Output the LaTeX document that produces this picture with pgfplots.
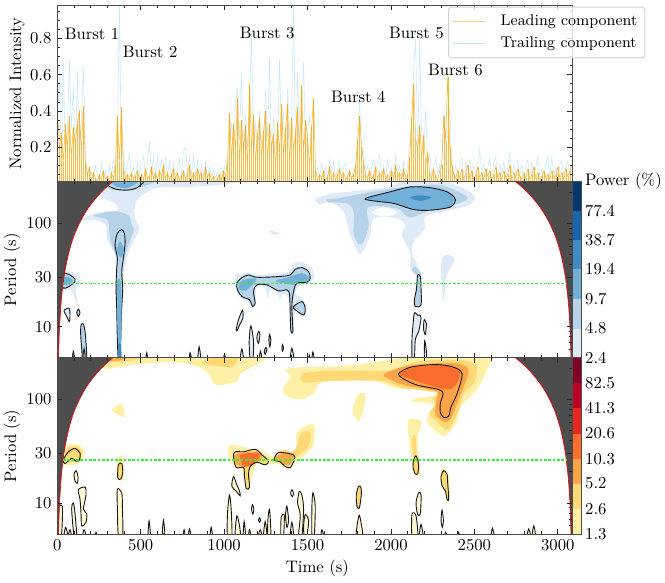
\documentclass[border=0pt]{standalone}
\usepackage{pgfplots}
\usepackage{pgfplotstable}
\pgfplotsset{compat=1.18}

\definecolor{leadcol}{HTML}{FFA500}
\definecolor{trailcol}{HTML}{87CEEB}
\definecolor{perline}{HTML}{35F035}
\definecolor{blueA}{HTML}{DEEBF7}
\definecolor{blueB}{HTML}{B5D2E8}
\definecolor{blueC}{HTML}{72B0D8}
\definecolor{blueD}{HTML}{3F8CC4}
\definecolor{blueE}{HTML}{1765AB}
\definecolor{blueF}{HTML}{08366F}
\definecolor{oranL}{HTML}{FFF7D2}
\definecolor{oranA}{HTML}{FFF0A8}
\definecolor{oranB}{HTML}{FED976}
\definecolor{oranC}{HTML}{FEA446}
\definecolor{oranD}{HTML}{FB6D2C}
\definecolor{oranE}{HTML}{E9261F}
\definecolor{oranF}{HTML}{BD0026}
\definecolor{oranG}{HTML}{800026}
\definecolor{coicol}{HTML}{4D4D4D}

% time, leading, trailing
\pgfplotstableread{
t lead trail
0 .45 .30
12 .18 .61
24 .28 .10
36 .12 .69
48 .33 .14
60 .20 .28
72 .37 .69
84 .15 .30
96 .31 .54
108 .22 .12
120 .34 .63
132 .40 .15
144 .17 .35
156 .43 .65
168 .12 .17
180 .05 .03
192 .09 .08
204 .02 .06
216 .06 .02
228 .03 .10
240 .01 .04
252 .05 .02
264 .02 .11
276 .07 .03
288 .02 .07
300 .04 .02
312 .01 .10
324 .06 .04
336 .03 .13
348 .10 .05
360 .37 .22
372 .12 1.0
384 .42 .14
396 .09 .18
408 .03 .06
420 .05 .10
432 .02 .16
444 .06 .04
456 .03 .09
468 .04 .02
480 .07 .11
492 .02 .04
504 .05 .12
516 .02 .15
528 .08 .05
540 .03 .12
552 .04 .23
564 .09 .05
576 .03 .14
588 .06 .03
600 .02 .15
612 .07 .05
624 .04 .13
636 .10 .02
648 .03 .15
660 .06 .04
672 .02 .12
684 .05 .03
696 .08 .11
708 .03 .05
720 .06 .08
732 .02 .14
744 .04 .03
756 .07 .18
768 .03 .20
780 .05 .06
792 .10 .14
804 .02 .04
816 .06 .16
828 .03 .05
840 .08 .13
852 .04 .03
864 .06 .10
876 .02 .04
888 .09 .12
900 .03 .03
912 .06 .09
924 .02 .04
936 .04 .07
948 .01 .03
960 .03 .06
972 .05 .02
984 .02 .09
996 .07 .04
1008 .04 .13
1020 .12 .06
1032 .39 .20
1044 .14 .34
1056 .33 .10
1068 .20 .46
1080 .47 .52
1092 .13 .24
1104 .35 .62
1116 .18 .16
1128 .32 .38
1140 .10 .20
1152 .55 .42
1164 .19 .83
1176 .38 .15
1188 .12 .34
1200 .28 .11
1212 .36 .40
1224 .15 .22
1236 .29 .18
1248 .40 .52
1260 .13 .26
1272 .33 .69
1284 .20 .15
1296 .27 .36
1308 .10 .22
1320 .34 .14
1332 .17 .68
1344 .44 .24
1356 .16 .40
1368 .30 .12
1380 .44 .52
1392 .12 .26
1404 .36 .34
1416 .19 1.0
1428 .28 .15
1440 .42 .62
1452 .14 .22
1464 .54 .36
1476 .18 .67
1488 .35 .13
1500 .25 .30
1512 .10 .37
1524 .31 .08
1536 .47 .05
1548 .07 .04
1560 .02 .09
1572 .05 .03
1584 .03 .11
1596 .07 .04
1608 .02 .09
1620 .04 .02
1632 .09 .13
1644 .03 .06
1656 .06 .12
1668 .02 .04
1680 .05 .08
1692 .08 .12
1704 .03 .03
1716 .06 .09
1728 .02 .11
1740 .04 .04
1752 .07 .07
1764 .03 .03
1776 .05 .08
1788 .10 .05
1800 .24 .30
1812 .37 .45
1824 .20 .14
1836 .12 .19
1848 .05 .05
1860 .03 .10
1872 .07 .02
1884 .02 .09
1896 .05 .13
1908 .09 .05
1920 .03 .12
1932 .06 .16
1944 .04 .04
1956 .08 .10
1968 .02 .03
1980 .05 .13
1992 .03 .05
2004 .07 .09
2016 .02 .02
2028 .10 .16
2040 .04 .05
2052 .06 .10
2064 .03 .04
2076 .08 .12
2088 .02 .03
2100 .05 .10
2112 .14 .22
2124 .36 .30
2136 .55 .64
2148 .25 .80
2160 .18 .15
2172 .32 .80
2184 .14 .24
2196 .27 .20
2208 .10 .41
2220 .17 .11
2232 .06 .16
2244 .03 .05
2256 .08 .09
2268 .04 .14
2280 .02 .05
2292 .07 .11
2304 .10 .08
2316 .37 .39
2328 .24 .10
2340 .59 .31
2352 .20 .42
2364 .10 .12
2376 .05 .05
2388 .03 .10
2400 .07 .03
2412 .03 .09
2424 .08 .14
2436 .02 .04
2448 .06 .12
2460 .10 .05
2472 .03 .13
2484 .07 .03
2496 .02 .10
2508 .05 .05
2520 .09 .12
2532 .03 .19
2544 .06 .04
2556 .02 .11
2568 .08 .03
2580 .04 .09
2592 .07 .14
2604 .02 .04
2616 .05 .11
2628 .09 .15
2640 .03 .03
2652 .06 .10
2664 .02 .05
2676 .07 .12
2688 .03 .03
2700 .05 .09
2712 .10 .17
2724 .02 .04
2736 .06 .11
2748 .03 .03
2760 .08 .13
2772 .04 .05
2784 .02 .10
2796 .06 .03
2808 .03 .09
2820 .08 .13
2832 .02 .04
2844 .05 .12
2856 .09 .03
2868 .03 .09
2880 .06 .15
2892 .02 .04
2904 .04 .08
2916 .07 .03
2928 .03 .11
2940 .05 .15
2952 .02 .03
2964 .07 .15
2976 .03 .05
2988 .05 .09
3000 .09 .03
3012 .03 .10
3024 .06 .13
3036 .02 .04
3048 .08 .09
3060 .04 .12
3072 .07 .05
3084 .10 .13
}\burst

\pgfplotsset{
  panel/.style={
    scale only axis, width=309pt, height=105.7pt,
    xmin=0, xmax=3087,
    axis on top, no marks,
    xtick={0,500,1000,1500,2000,2500,3000},
    minor x tick num=4,
    /pgf/number format/1000 sep={},
    tick align=inside,
    major tick length=3pt, minor tick length=1.6pt,
    every tick/.style={black!85, line width=.45pt},
    axis line style={black!70, line width=.6pt},
  },
  cbarstyle/.style={
    scale only axis, width=5.4pt, height=105.7pt,
    xmin=0, xmax=1,
    xtick=\empty, axis on top,
    major tick length=0pt, yminorticks=false,
    ytick pos=right,
    yticklabel style={anchor=west, xshift=-1.2pt},
    axis line style={black!70, line width=.5pt},
  },
  blvA/.style={fill=blueA,draw=none,smooth cycle,forget plot},
  blvB/.style={fill=blueB,draw=none,smooth cycle,forget plot},
  blvC/.style={fill=blueC,draw=none,smooth cycle,forget plot},
  blvD/.style={fill=blueD,draw=none,smooth cycle,forget plot},
  ylvA/.style={fill=oranA,draw=none,smooth cycle,forget plot},
  ylvB/.style={fill=oranB,draw=none,smooth cycle,forget plot},
  ylvC/.style={fill=oranC,draw=none,smooth cycle,forget plot},
  ylvD/.style={fill=oranD,draw=none,smooth cycle,forget plot},
  ctline/.style={draw=black!90,line width=.55pt,smooth cycle,forget plot},
  ctblA/.style={ctline,fill=blueA},
  ctblB/.style={ctline,fill=blueB},
  ctylA/.style={ctline,fill=oranL},
  ctylB/.style={ctline,fill=oranB},
  coifill/.style={fill=coicol,draw=none,forget plot},
  coiline/.style={draw=red,line width=.4pt,forget plot},
  rightticks/.style={
    extra y ticks={6,7,8,9,20,40,50,60,70,80,90,200},
    extra y tick labels={},
    extra y tick style={ytick pos=right,major tick length=2pt},
  },
}

\newcommand{\coidraw}{%
  \addplot[coifill] coordinates {(0,5)(6.6,5)(13,10)(20,15)(26,20)(39,30)(53,40)(66,50)(79,60)(92,70)(105,80)(132,100)(158,120)(184,140)(211,160)(237,180)(263,200)(289,220)(316,240)(333,253)(0,253)} --cycle;
  \addplot[coifill] coordinates {(3087,5)(3079,5)(3073,10)(3066,15)(3059,20)(3046,30)(3032,40)(3019,50)(3005,60)(2992,70)(2979,80)(2951,100)(2925,120)(2898,140)(2871,160)(2844,180)(2818,200)(2791,220)(2764,240)(2746,253)(3087,253)} --cycle;
  \addplot[coiline] coordinates {(6.6,5)(13,10)(20,15)(26,20)(39,30)(53,40)(66,50)(79,60)(92,70)(105,80)(132,100)(158,120)(184,140)(211,160)(237,180)(263,200)(289,220)(316,240)(333,253)};
  \addplot[coiline] coordinates {(3079,5)(3073,10)(3066,15)(3059,20)(3046,30)(3032,40)(3019,50)(3005,60)(2992,70)(2979,80)(2951,100)(2925,120)(2898,140)(2871,160)(2844,180)(2818,200)(2791,220)(2764,240)(2746,253)};
}

\begin{document}
\begin{tikzpicture}
\path[use as bounding box] (-34.4pt,-28.8pt) rectangle (364.6pt,320.4pt);

% ---- light curves
\begin{axis}[panel,
  at={(0pt,211.4pt)}, anchor=south west,
  ymin=0.01, ymax=0.982,
  ytick={0.2,0.4,0.6,0.8}, minor ytick={0.05,0.1,0.15,0.25,0.3,0.35,0.45,0.5,0.55,0.65,0.7,0.75,0.85,0.9,0.95},
  xticklabels={},
  ylabel={Normalized Intensity},
  ylabel style={at={(axis description cs:-0.078,.5)},anchor=center},
  legend image code/.code={\draw[#1] (0pt,0pt) -- (19pt,0pt);},
  legend style={at={(0.759,0.993)},anchor=north west,fill=white,fill opacity=.8,text opacity=1,draw=black!18,rounded corners=1.5pt,line width=.6pt,font=\fontsize{9.3}{11}\selectfont,row sep=1.5pt,inner sep=2.5pt,/tikz/every odd column/.append style={column sep=7pt}},
  legend cell align=left,
]
\addlegendimage{color=leadcol,draw opacity=.5,line width=.7pt}
\addlegendimage{color=trailcol,draw opacity=.5,line width=.7pt}
\addplot[draw=trailcol,opacity=.45,line width=.35pt,forget plot] table[x=t,y=trail]{\burst};
\addplot[ycomb,draw=leadcol,opacity=.75,line width=.25pt,forget plot] table[x=t,y=lead]{\burst};
\addplot[draw=leadcol,opacity=.85,line width=.3pt,forget plot] table[x=t,y=lead]{\burst};
\legend{Leading component,Trailing component}
\node at (axis cs:208,.828) {Burst 1};
\node at (axis cs:556,.727) {Burst 2};
\node at (axis cs:1258,.828) {Burst 3};
\node at (axis cs:1804,.478) {Burst 4};
\node at (axis cs:2152,.828) {Burst 5};
\node at (axis cs:2386,.627) {Burst 6};
\end{axis}

% ---- leading component spectrum
\begin{axis}[panel, ymode=log, ymin=5, ymax=253,
  ytick={10,30,100}, yticklabels={10,30,100},
  yminorticks=false, rightticks,
  ylabel={Period (s)},
  ylabel style={at={(axis description cs:-0.088,.5)},anchor=center},
  at={(0pt,105.7pt)}, anchor=south west,
  xticklabels={},
]
\addplot[blvA] coordinates {(316,260)(1096,260)(956,234)(776,225)(596,220)(496,180)(466,150)(466,112)(492,89)(456,66.5)(416,47.7)(400,31.7)(380,25.4)(356,31.7)(346,49.5)(296,72)(292,96)(216,108)(136,108)(256,129)(356,131)(346,156)(266,176)(266,194)};
\addplot[blvB] coordinates {(316,260)(596,260)(536,234)(456,213)(336,210)(296,234)};
\addplot[blvB] coordinates {(216,118)(336,131)(426,120)(446,96)(460,86)(426,62)(400,47.7)(356,47.7)(316,72)(300,108)};
\addplot[blvC] coordinates {(330,260)(490,260)(426,222)(356,226)};
\addplot[draw=black!90,line width=.55pt,smooth,forget plot] coordinates {(296,234)(356,213)(426,210)(476,220)(512,245)(520,260)};
\addplot[ctblB] coordinates {(360,80)(386,87)(402,80)(406,64)(396,46)(386,34)(392,23.6)(386,15)(380,7.2)(380,4.8)(366,4.8)(360,7.2)(356,15)(352,23.6)(356,36.8)(360,46)(346,62)};
\addplot[blvC] coordinates {(356,55)(376,66.5)(400,55)(380,46.7)};
\addplot[blvC] coordinates {(360,27.4)(380,27.4)(386,15)(380,5.2)(366,5.2)(360,15)};
\addplot[blvD] coordinates {(364,6.7)(380,6.7)(380,4.8)(364,4.8)};
\addplot[blvA] coordinates {(12,32.9)(86,34.2)(136,30.5)(132,25.4)(112,22.7)(126,15.1)(104,18.9)(80,22.7)(26,22.7)};
\addplot[ctblB] coordinates {(36,32.9)(76,31.7)(106,28.9)(106,27.2)(66,24.3)(36,23.6)(22,27.4)};
\addplot[blvC] coordinates {(36,30.5)(72,29.8)(92,28)(66,25.8)(36,25.4)};
\addplot[ctblA] coordinates {(40,14.3)(70,15.1)(76,13)(72,11.2)(56,12.6)};
\addplot[ctblB] coordinates {(116,13.7)(126,14.8)(136,13.7)(126,12.6)};
\addplot[ctblB] coordinates {(142,10.4)(156,10.6)(168,8.4)(176,4.8)(152,4.8)(146,6.2)(140,8.4)};
\addplot[ctblA] coordinates {(90,4.8)(96,5.8)(102,4.8)};
\addplot[ctblA] coordinates {(154,4.8)(160,6.1)(168,4.8)};
\addplot[ctblA] coordinates {(530,4.8)(536,5.6)(542,4.8)};
\addplot[ctblA] coordinates {(790,4.8)(796,5.6)(804,4.8)};
\addplot[ctblA] coordinates {(842,4.8)(850,6.4)(860,4.8)};
\addplot[ctblA] coordinates {(996,4.8)(1002,5.4)(1008,4.8)};
\addplot[ctblA] coordinates {(1096,4.8)(1106,6.1)(1116,4.8)};
\addplot[ctblA] coordinates {(1150,7.2)(1160,10.2)(1176,7.2)(1172,4.8)(1156,4.8)};
\addplot[ctblA] coordinates {(1196,7.8)(1206,9)(1214,8.4)(1206,6.9)};
\addplot[ctblB] coordinates {(1268,7.5)(1272,8.4)(1280,7.5)(1274,6.4)};
\addplot[ctblB] coordinates {(1240,5.8)(1250,6.3)(1256,6)(1246,5.4)};
\addplot[ctblA] coordinates {(1210,4.8)(1218,5.8)(1226,4.8)};
\addplot[ctblB] coordinates {(1346,6.2)(1350,6.7)(1356,6.2)(1350,5.8)};
\addplot[ctblA] coordinates {(1396,4.8)(1406,6.2)(1418,4.8)};
\addplot[ctblA] coordinates {(1506,4.8)(1510,5.3)(1516,4.8)};
\addplot[ctblA] coordinates {(1526,4.8)(1532,5.7)(1540,4.8)};
\addplot[blvA] coordinates {(1266,86)(1306,83)(1340,80)(1296,78)};
% burst 3
\addplot[blvA] coordinates {(1066,31.7)(1096,32.3)(1146,33.5)(1206,31.7)(1316,33)(1386,34.2)(1416,41)(1466,42)(1526,36.8)(1536,29)(1486,25.4)(1446,24.5)(1426,20.9)(1466,18.9)(1492,15.1)(1480,12.6)(1426,14.1)(1416,9)(1396,9)(1392,17.5)(1356,20.9)(1332,18.6)(1316,21.9)(1276,22.7)(1260,18.6)(1246,23.6)(1196,24.5)(1186,16.3)(1166,15.8)(1146,17.5)(1096,18.9)(1066,25.4)};
\addplot[ctblB] coordinates {(1076,26.4)(1106,29.8)(1146,31.7)(1196,30.1)(1316,30.5)(1396,31.7)(1426,36)(1466,37.3)(1506,34.2)(1516,29.4)(1496,27)(1436,26.4)(1416,21.9)(1406,15.7)(1412,9.1)(1400,9.1)(1396,13)(1392,20.3)(1376,22.7)(1326,22.2)(1256,25.4)(1196,25.4)(1176,21.9)(1186,16.9)(1170,15.7)(1152,18.2)(1106,19.6)(1080,22.7)};
\addplot[blvC] coordinates {(1086,25.4)(1116,28.4)(1186,29.4)(1186,27.4)(1136,22.7)(1096,22.7)};
\addplot[blvC] coordinates {(1316,28.4)(1376,29.8)(1426,31.7)(1466,33)(1506,30.5)(1506,27.8)(1446,27)(1416,25.4)(1356,26.4)(1316,27)};
\addplot[ctblB] coordinates {(1416,15.7)(1466,17.5)(1486,15.1)(1476,13)(1426,14.6)};
\addplot[ctblA] coordinates {(1072,9.3)(1086,11.7)(1110,14.4)(1112,12.1)(1092,10.4)(1080,9.3)};
% long period patch
\addplot[blvA] coordinates {(1546,174)(1656,195)(1736,202)(1996,225)(2076,260)(2296,260)(2436,217)(2506,180)(2466,150)(2356,134)(2206,116)(2206,89)(2136,66.5)(2126,51)(2160,39.6)(2192,29.4)(2152,30.5)(2116,36.8)(2116,51)(2066,77)(2086,96)(2036,112)(1896,112)(1876,77)(1816,50.6)(1756,77)(1716,129)(1636,162)(1576,152)};
\addplot[blvB] coordinates {(1616,171)(1676,174)(1836,195)(2076,225)(2296,234)(2456,180)(2406,156)(2236,134)(2126,114)(2086,120)(2036,139)(1866,144)(1866,96)(1836,66.5)(1806,63)(1776,80)(1776,129)(1736,156)(1626,159)};
\addplot[fill=white,draw=none,smooth cycle,forget plot] coordinates {(1886,127)(1956,144)(2036,127)(1966,116)};
\addplot[ctline,fill=blueC] coordinates {(1846,174)(1996,202)(2116,225)(2236,221)(2336,202)(2386,171)(2356,144)(2236,134)(2136,136)(2016,156)(1896,165)};
\addplot[blvD] coordinates {(2112,178)(2176,187)(2242,178)(2176,165)};
\addplot[blvB] coordinates {(2126,35.5)(2146,38.2)(2180,31.7)(2160,31.2)};
\addplot[ctblB] coordinates {(2160,31.7)(2176,30.5)(2180,23.6)(2180,16.3)(2146,15.7)(2140,18.2)(2152,22.7)};
\addplot[blvA] coordinates {(2306,45.9)(2346,49.5)(2380,44)(2336,31.7)(2316,17.5)(2306,23.6)(2300,31.7)};
\addplot[ctblA] coordinates {(2140,13.6)(2160,12.9)(2172,13)(2180,12.1)(2166,9)(2146,7.5)(2140,4.8)(2126,4.8)(2126,7.8)(2132,10.4)};
\addplot[ctblA] coordinates {(2200,11.7)(2212,10.7)(2206,8.4)(2196,9.3)(2196,10.7)};
\addplot[ctblA] coordinates {(2202,7.3)(2212,5.8)(2212,4.8)(2200,4.8)};
\coidraw
\end{axis}

% ---- trailing component spectrum
\begin{axis}[panel, ymode=log, ymin=5, ymax=253,
  ytick={10,30,100}, yticklabels={10,30,100},
  yminorticks=false, rightticks,
  ylabel={Period (s)},
  ylabel style={at={(axis description cs:-0.088,.5)},anchor=center},
  at={(0pt,0pt)}, anchor=south west,
  xlabel={Time (s)},
  xlabel style={at={(axis description cs:.505,-.193)},anchor=center},
]
\addplot[ylvA] coordinates {(276,201)(336,260)(1196,260)(1186,215)(1096,178)(1076,149)(976,138)(936,144)(896,186)(776,223)(616,228)(456,215)(336,201)};
\addplot[ylvB] coordinates {(316,232)(356,260)(516,260)(456,238)(376,232)};
\addplot[ylvC] coordinates {(316,236)(376,260)(436,260)(376,240)};
\addplot[ylvB] coordinates {(866,228)(956,260)(1076,260)(1056,208)(996,208)(916,215)};
\addplot[ylvA] coordinates {(1366,195)(1496,208)(1636,208)(1836,223)(2036,248)(2066,260)(2576,260)(2586,215)(2516,125)(2416,85)(2396,61)(2316,44.6)(2216,61)(2256,85)(2236,92)(2126,96)(2156,104)(2246,108)(2296,119)(2176,125)(2036,128)(1896,150)(1636,150)(1560,138)(1546,119)(1466,100)(1376,108)(1352,125)(1396,168)};
\addplot[ylvB] coordinates {(1472,178)(1636,190)(1976,190)(2116,223)(2236,241)(2436,238)(2516,208)(2496,144)(2436,114)(2406,79)(2356,53)(2316,52)(2276,61)(2226,73)(2276,92)(2246,101)(2286,114)(2196,122)(2056,131)(1936,152)(1636,152)(1476,146)};
\addplot[ylvC] coordinates {(1956,172)(2076,208)(2236,223)(2396,223)(2466,195)(2436,133)(2396,92)(2356,64)(2316,61)(2266,73)(2276,108)(2276,119)(2196,128)(2076,138)};
\addplot[ylvD] coordinates {(2046,178)(2156,208)(2316,215)(2406,195)(2406,155)(2356,126)(2256,133)(2116,158)};
\addplot[ctline] coordinates {(2046,178)(2116,205)(2256,218)(2366,208)(2426,178)(2396,114)(2360,85)(2346,69)(2316,67)(2296,75)(2296,92)(2312,114)(2286,125)(2156,138)(2076,158)};
\addplot[ylvA] coordinates {(1772,85)(1806,114)(1846,110)(1836,79)(1806,62)(1776,71)};
\addplot[ylvA] coordinates {(2106,64)(2186,61)(2160,44)(2166,28)(2172,19.6)(2146,18)(2126,24)(2106,41)};
\addplot[ylvB] coordinates {(2126,41)(2146,45)(2152,28)(2136,28)};
\addplot[ctylB] coordinates {(2136,26)(2150,28.5)(2166,23.5)(2160,19.2)(2144,19.2)(2132,22.5)};
\addplot[ylvA] coordinates {(2296,19)(2316,21.5)(2346,18.5)(2352,11)(2330,13)(2302,15)};
\addplot[ctylB] coordinates {(2300,18)(2316,20.5)(2336,18.9)(2340,15.5)(2346,10.8)(2336,10.8)(2326,13)(2306,14.7)};
\addplot[ctylB] coordinates {(1792,11.9)(1806,14.5)(1820,14.1)(1822,11.9)(1810,8.9)(1796,9.3)};
\addplot[ctylA] coordinates {(2166,12.5)(2180,12)(2176,7.9)(2160,7.7)(2150,10)};
\addplot[ctylA] coordinates {(2126,7.8)(2150,7.5)(2160,4.8)(2126,4.8)};
\addplot[ctylA] coordinates {(2170,4.8)(2180,6.2)(2192,4.8)};
\addplot[ctline] coordinates {(2300,6.8)(2306,8.5)(2314,6.8)(2308,5.8)};
\addplot[ctylA] coordinates {(1792,4.8)(1800,6.5)(1810,7.6)(1820,6.5)(1830,4.8)};
\addplot[ctylA] coordinates {(2320,4.8)(2328,5.2)(2336,4.8)};
\addplot[ctylA] coordinates {(2398,4.8)(2404,5.2)(2412,4.8)};
\addplot[ctylA] coordinates {(2600,4.8)(2608,5.7)(2618,4.8)};
\addplot[ctylA] coordinates {(2816,4.8)(2826,5.6)(2836,4.8)};
\addplot[ctylA] coordinates {(2846,4.8)(2856,6)(2866,4.8)};
% burst 1
\addplot[ylvA] coordinates {(36,32)(66,36.5)(126,36.5)(166,30.3)(136,25.3)(106,23.5)(36,23.5)};
\addplot[ylvB] coordinates {(40,28)(66,34)(126,35)(146,30.3)(126,26)(36,24)};
\addplot[ctylB] coordinates {(36,26)(66,31.2)(106,33.6)(136,30.3)(132,26)(112,25.3)(86,27)(46,24)};
\addplot[ctylA] coordinates {(100,18.9)(112,20.5)(124,18)(120,15.5)(106,16.3)};
\addplot[ctylA] coordinates {(126,13.4)(166,14.2)(172,11.9)(156,8.7)(176,7.9)(172,6.5)(146,6)(142,7.9)(136,10.8)};
\addplot[ctylA] coordinates {(12,9.3)(30,9.3)(30,6.8)(24,4.8)(8,4.8)(6,7.6)};
\addplot[ctylA] coordinates {(86,8.7)(96,10)(106,7.9)(116,4.8)(100,4.8)};
\addplot[ctylA] coordinates {(40,4.8)(50,5.8)(62,4.8)};
\addplot[ctylA] coordinates {(66,4.8)(76,5.5)(84,4.8)};
\addplot[ctylA] coordinates {(152,4.8)(160,5.5)(172,4.8)};
\addplot[ctylA] coordinates {(226,4.8)(232,5.2)(238,4.8)};
% burst 2
\addplot[ylvA] coordinates {(356,24)(380,29.2)(400,24)(396,16.9)(366,16.9)};
\addplot[ctylB] coordinates {(362,17.5)(366,23.5)(386,24)(392,19.6)(380,17)};
\addplot[ctylA] coordinates {(360,13.6)(386,12.5)(390,9.3)(392,4.8)(366,4.8)(360,8.7)};
\addplot[ylvA] coordinates {(326,79)(376,92)(400,83)(402,68)(376,70)};
% burst 3
\addplot[ylvA] coordinates {(1026,35.5)(1056,36.5)(1176,33)(1256,30.3)(1286,28)(1396,31.2)(1436,33.4)(1436,48)(1536,58)(1536,37.8)(1496,30.3)(1416,24)(1376,21.8)(1316,24)(1256,23.5)(1196,24)(1156,15.5)(1146,13.6)(1126,15.5)(1106,21)(1056,23.5)(1026,28)};
\addplot[ylvB] coordinates {(1296,28)(1356,32.8)(1416,31.2)(1466,48)(1516,48)(1506,35.5)(1426,27)(1376,22.5)(1316,26)};
\addplot[ylvB] coordinates {(1056,28)(1066,31.2)(1116,31.2)(1186,33)(1226,29.2)(1266,25.3)(1246,23.3)(1196,24.7)(1156,22.5)(1146,18.9)(1152,14.1)(1132,13.8)(1122,18)(1116,22)(1072,22)};
\addplot[ylvC] coordinates {(1066,29.2)(1196,31.2)(1226,27)(1146,22.5)(1076,23.5)};
\addplot[ylvD] coordinates {(1096,29.2)(1196,30.7)(1212,28)(1166,23.5)(1116,22.5)(1100,26)};
\addplot[ylvC] coordinates {(1306,27)(1356,30.3)(1416,28.6)(1396,23.5)(1366,23.5)};
\addplot[ctline] coordinates {(1056,28)(1066,31.2)(1116,31.2)(1186,33)(1226,29.2)(1266,25.3)(1246,23.3)(1196,24.7)(1156,22.5)(1146,18.9)(1152,14.1)(1132,13.8)(1122,18)(1116,22)(1072,22)};
\addplot[ctline] coordinates {(1300,26)(1326,30.7)(1416,29.2)(1420,26)(1396,22)(1366,22.5)(1336,25)};
\addplot[ctylA] coordinates {(1056,18)(1072,15.5)(1092,13)(1096,11.7)(1072,13)(1046,14.5)};
\addplot[ctline] coordinates {(1406,13.4)(1416,12.4)(1408,11.5)(1398,12.4)};
\addplot[ctylA] coordinates {(1450,12.9)(1466,11.9)(1476,8.7)(1466,4.8)(1446,4.8)(1456,7.6)(1440,10)};
\addplot[ctylA] coordinates {(1020,7.9)(1032,11.9)(1042,8.7)(1046,4.8)(1020,4.8)};
\addplot[ctylA] coordinates {(1066,4.8)(1076,7.5)(1092,6)(1096,4.8)};
\addplot[ctylA] coordinates {(1114,4.8)(1120,6.6)(1128,4.8)};
\addplot[ctylA] coordinates {(1146,4.8)(1152,5.5)(1160,4.8)};
\addplot[ctline] coordinates {(1164,8.7)(1170,9.6)(1178,8.7)(1172,7.8)};
\addplot[ctline] coordinates {(1206,6.8)(1212,7.2)(1218,6.8)(1212,6.5)};
\addplot[ctylA] coordinates {(1206,4.8)(1216,5.5)(1226,4.8)};
\addplot[ctylA] coordinates {(1236,4.8)(1246,6.6)(1256,4.8)};
\addplot[ctylA] coordinates {(1262,4.8)(1262,6.8)(1272,8.7)(1280,4.8)};
\addplot[ctylA] coordinates {(1340,4.8)(1342,7.2)(1360,7.6)(1356,4.8)};
\addplot[ctylA] coordinates {(1368,7.6)(1376,9.3)(1386,6.8)(1376,5.8)};
\addplot[ctylA] coordinates {(1396,4.8)(1406,6.5)(1416,4.8)};
\addplot[ctylA] coordinates {(1476,6)(1486,7.7)(1506,6.8)(1496,4.8)(1480,4.8)};
\addplot[ctylA] coordinates {(1526,4.8)(1526,9.3)(1532,12.5)(1546,9.3)(1540,4.8)};
\addplot[ctylA] coordinates {(1580,4.8)(1586,5.5)(1596,4.8)};
\addplot[ctylA] coordinates {(544,4.8)(550,6.7)(558,4.8)};
\addplot[ctylA] coordinates {(630,5.1)(636,6.8)(644,5.1)};
\addplot[ctylA] coordinates {(754,4.8)(760,5.5)(766,4.8)};
\addplot[ctylA] coordinates {(786,4.8)(792,5.6)(800,4.8)};
\addplot[ctylA] coordinates {(916,4.8)(922,5.8)(930,4.8)};
\coidraw
\addplot[color=perline,line width=.75pt,dash pattern=on 1.6pt off 1pt,forget plot] coordinates {(34,26)(3053,26)};
\end{axis}

% ---- period line over the middle panel
\begin{axis}[scale only axis, width=309pt, height=105.7pt,
  at={(0pt,105.7pt)}, anchor=south west,
  xmin=0, xmax=3087, ymode=log, ymin=5, ymax=253, hide axis,
]
\addplot[color=perline,line width=.75pt,dash pattern=on 1.6pt off 1pt,forget plot] coordinates {(34,26)(3053,26)};
\end{axis}

% ---- colour bars
\begin{axis}[cbarstyle, ymode=log,
  at={(309pt,105.7pt)}, anchor=south west,
  ymin=2.4, ymax=154.8,
  ytick={2.4,4.8,9.7,19.4,38.7,77.4,154.8},
  yticklabels={2.4,4.8,9.7,19.4,38.7,77.4,Power (\%)},
]
\addplot[fill=blueA,draw=none,forget plot] coordinates {(0,2.4)(1,2.4)(1,4.8)(0,4.8)} --cycle;
\addplot[fill=blueB,draw=none,forget plot] coordinates {(0,4.8)(1,4.8)(1,9.7)(0,9.7)} --cycle;
\addplot[fill=blueC,draw=none,forget plot] coordinates {(0,9.7)(1,9.7)(1,19.4)(0,19.4)} --cycle;
\addplot[fill=blueD,draw=none,forget plot] coordinates {(0,19.4)(1,19.4)(1,38.7)(0,38.7)} --cycle;
\addplot[fill=blueE,draw=none,forget plot] coordinates {(0,38.7)(1,38.7)(1,77.4)(0,77.4)} --cycle;
\addplot[fill=blueF,draw=none,forget plot] coordinates {(0,77.4)(1,77.4)(1,154.8)(0,154.8)} --cycle;
\end{axis}
\begin{axis}[cbarstyle, ymode=log,
  at={(309pt,0pt)}, anchor=south west,
  ymin=1.3, ymax=165.2,
  ytick={1.3,2.6,5.2,10.3,20.6,41.3,82.5},
  yticklabels={1.3,2.6,5.2,10.3,20.6,41.3,82.5},
]
\addplot[fill=oranA,draw=none,forget plot] coordinates {(0,1.3)(1,1.3)(1,2.6)(0,2.6)} --cycle;
\addplot[fill=oranB,draw=none,forget plot] coordinates {(0,2.6)(1,2.6)(1,5.2)(0,5.2)} --cycle;
\addplot[fill=oranC,draw=none,forget plot] coordinates {(0,5.2)(1,5.2)(1,10.3)(0,10.3)} --cycle;
\addplot[fill=oranD,draw=none,forget plot] coordinates {(0,10.3)(1,10.3)(1,20.6)(0,20.6)} --cycle;
\addplot[fill=oranE,draw=none,forget plot] coordinates {(0,20.6)(1,20.6)(1,41.3)(0,41.3)} --cycle;
\addplot[fill=oranF,draw=none,forget plot] coordinates {(0,41.3)(1,41.3)(1,82.5)(0,82.5)} --cycle;
\addplot[fill=oranG,draw=none,forget plot] coordinates {(0,82.5)(1,82.5)(1,165.2)(0,165.2)} --cycle;
\end{axis}
\end{tikzpicture}
\end{document}
